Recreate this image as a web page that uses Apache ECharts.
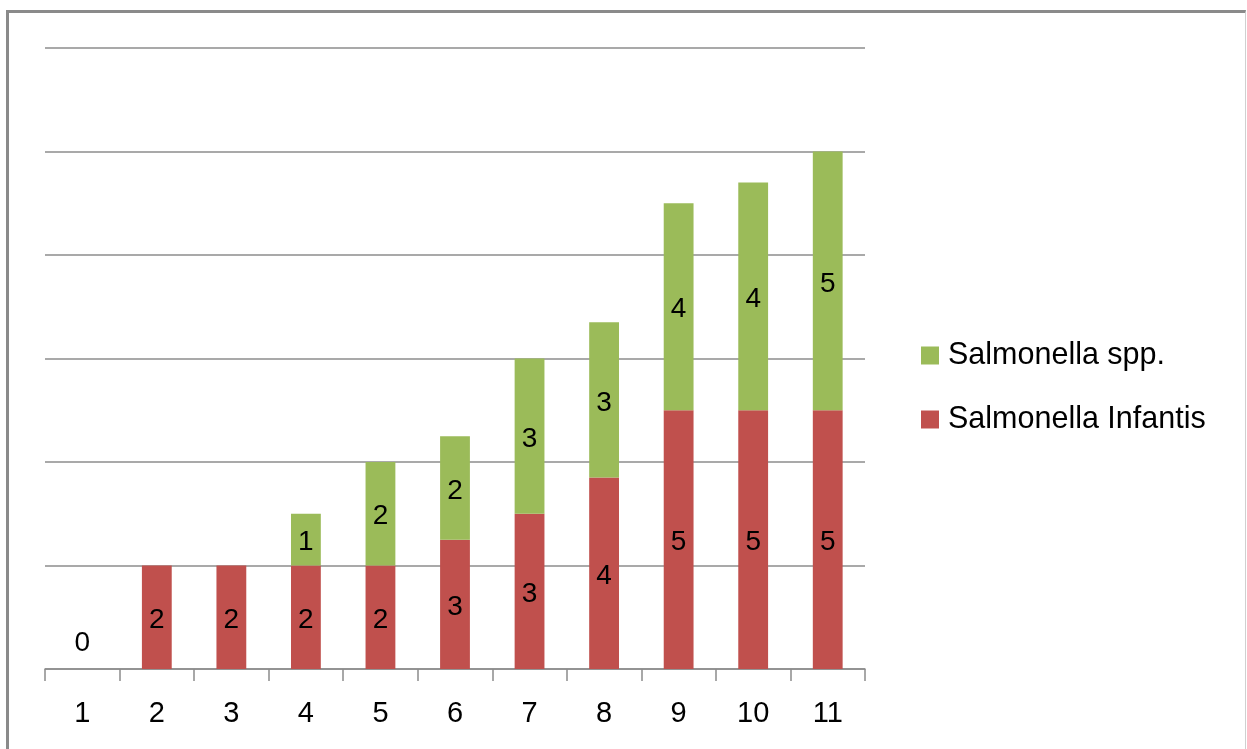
<!DOCTYPE html>
<html>
<head>
<meta charset="utf-8">
<script src="https://cdn.jsdelivr.net/npm/echarts@6/dist/echarts.min.js"></script>
<style>
  html, body { margin: 0; padding: 0; background: #fff; }
  #frame { position: absolute; left: 6px; top: 10px; width: 1240px; height: 760px;
           border-left: 3px solid #8a8a8a; border-top: 3px solid #8a8a8a; border-right: 1px solid #d0d0d0; box-sizing: border-box; }
  #chart { position: absolute; left: 0; top: 0; width: 1247px; height: 749px; }
</style>
</head>
<body>
<div id="frame"></div>
<div id="chart"></div>
<script>
const categories = ['1', '2', '3', '4', '5', '6', '7', '8', '9', '10', '11'];
const infantisValues = [0, 2, 2, 2, 2, 2.5, 3, 3.7, 5, 5, 5];
const sppValues = [null, null, null, 1, 2, 2, 3, 3, 4, 4.4, 5];
const seriesNames = ['Salmonella Infantis', 'Salmonella spp.'];

const FONT = 'Liberation Sans';
const labelStyle = {
  show: true,
  position: 'inside',
  offset: [0, 3],
  color: '#000',
  fontFamily: FONT,
  fontSize: 28,
  formatter: p => (p.value == null ? '' : String(Math.round(p.value)))
};

const redData = infantisValues.map(v => v === 0
  ? { value: v, label: { position: 'top', distance: 12, offset: [0, 0] } }
  : v);

const chart = echarts.init(document.getElementById('chart'), null, { renderer: 'canvas' });
chart.setOption({
  animation: false,
  backgroundColor: 'transparent',
  grid: { left: 45, right: 382, top: 48, bottom: 80 },
  legend: {
    orient: 'vertical',
    left: 916,
    top: 335,
    data: [seriesNames[1], seriesNames[0]],
    icon: 'rect',
    itemWidth: 18,
    itemHeight: 18,
    itemGap: 33,
    textStyle: { fontFamily: FONT, fontSize: 30.5, color: '#000', padding: [0, 0, 0, 4] }
  },
  xAxis: {
    type: 'category',
    data: categories,
    axisLine: { lineStyle: { color: '#8c8c8c', width: 1.5 } },
    axisTick: { show: true, interval: 0, length: 12, lineStyle: { color: '#8c8c8c', width: 1.5 } },
    axisLabel: { interval: 0, margin: 30, color: '#000', fontFamily: FONT, fontSize: 29 }
  },
  yAxis: {
    type: 'value',
    min: 0,
    max: 12,
    interval: 2,
    axisLine: { show: false },
    axisTick: { show: false },
    axisLabel: { show: false },
    splitLine: { lineStyle: { color: '#8c8c8c', width: 1.5 } }
  },
  series: [
    {
      name: seriesNames[0],
      type: 'bar',
      stack: 'total',
      barWidth: '40%',
      itemStyle: { color: '#C0504D' },
      label: labelStyle,
      data: redData
    },
    {
      name: seriesNames[1],
      type: 'bar',
      stack: 'total',
      barWidth: '40%',
      itemStyle: { color: '#9BBB59' },
      label: labelStyle,
      data: sppValues
    }
  ]
});
</script>
</body>
</html>
